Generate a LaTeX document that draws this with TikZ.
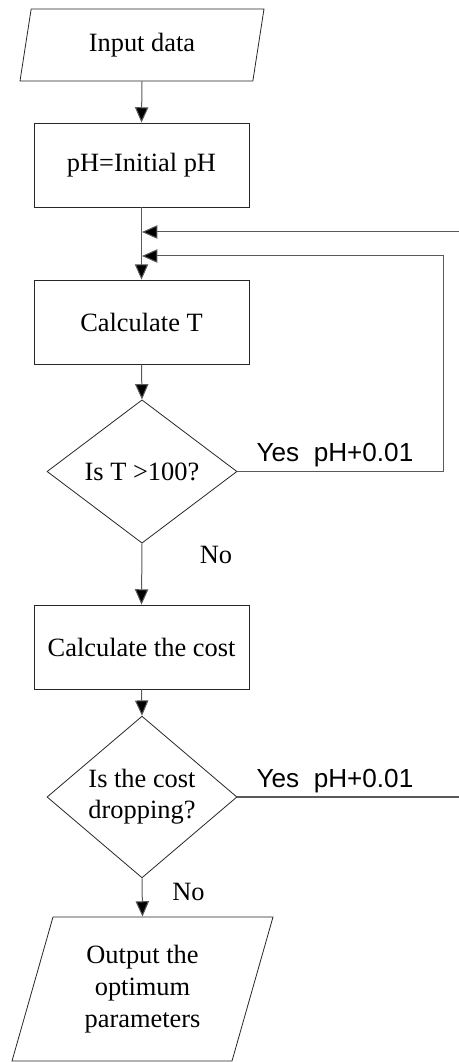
\documentclass[tikz,border=0pt]{standalone}
\usepackage{fontspec}
\setmainfont{Liberation Serif}
\newfontfamily\arialfont{Liberation Sans}
\usetikzlibrary{positioning,arrows.meta,shapes.geometric}
\definecolor{linegray}{HTML}{5A5A5A}

\tikzset{
  base/.style={draw=black!85,line width=0.6pt,align=center,inner sep=0pt},
  procbox/.style={base,rectangle,minimum width=161.25pt,minimum height=63pt},
  iobox/.style={base,trapezium,trapezium left angle=65,trapezium right angle=115,
    trapezium stretches body=true},
  decbox/.style={base,diamond,minimum width=142.5pt,minimum height=107.5pt},
  flow/.style={draw=linegray,line width=0.75pt,-{Triangle[length=11.5pt,width=10pt,fill=black]}},
  link/.style={draw=linegray,line width=0.9pt},
  yeslbl/.style={font=\arialfont\fontsize{19.6}{23}\selectfont,anchor=base,inner sep=0pt},
  nolbl/.style={anchor=base,inner sep=0pt}
}

\begin{document}
\begin{tikzpicture}[x=0.75pt,y=-0.75pt,font=\fontsize{19.8}{24}\selectfont]
  \useasboundingbox (0,0) rectangle (459,1062);
  % main column
  \node[iobox,minimum width=183pt,minimum height=54pt] (in) at (142,45) {Input data};
  \node[procbox] (init) at (141.5,165) {pH=Initial pH};
  \node[procbox] (calcT) at (141.5,322) {Calculate T};
  \node[decbox] (isT) at (142,471.5) {Is T >100?};
  \node[procbox] (cost) at (141.5,647) {Calculate the cost};
  \node[decbox] (drop) at (142,797) {Is the cost\\[-1pt]dropping?};
  \node[iobox,minimum width=195.75pt,minimum height=108pt] (out) at (142.5,989)
    {Output the\\optimum\\parameters};

  % merge points and loop ends
  \coordinate (m1) at (142,232);
  \coordinate (m2) at (142,256);
  \coordinate (e1) at (459,232);
  \coordinate (e2) at (459,797);

  \draw[flow] (in.center |- in.south) -- (init.north);
  \draw[flow] (init.south) -- (calcT.north);
  \draw[flow] (calcT.south) -- (isT.north);
  \draw[flow] (isT.south) -- (cost.north);
  \draw[flow] (cost.south) -- (drop.north);
  \draw[flow] (drop.south) -- (out.center |- out.north);

  % loops back
  \draw[flow,draw=linegray] (isT.east) -- ++(206,0) |- (m2);
  \draw[flow] (e1) -- (m1);
  \draw[link] (drop.east) -- (e2);

  % labels
  \node[yeslbl] (yes1) at (335,461) {Yes\ \ pH+0.01};
  \node[yeslbl] (yes2) at (335,787) {Yes\ \ pH+0.01};
  \node[nolbl] (no1) at (216,563) {No};
  \node[nolbl] (no2) at (188.5,900) {No};
\end{tikzpicture}
\end{document}
